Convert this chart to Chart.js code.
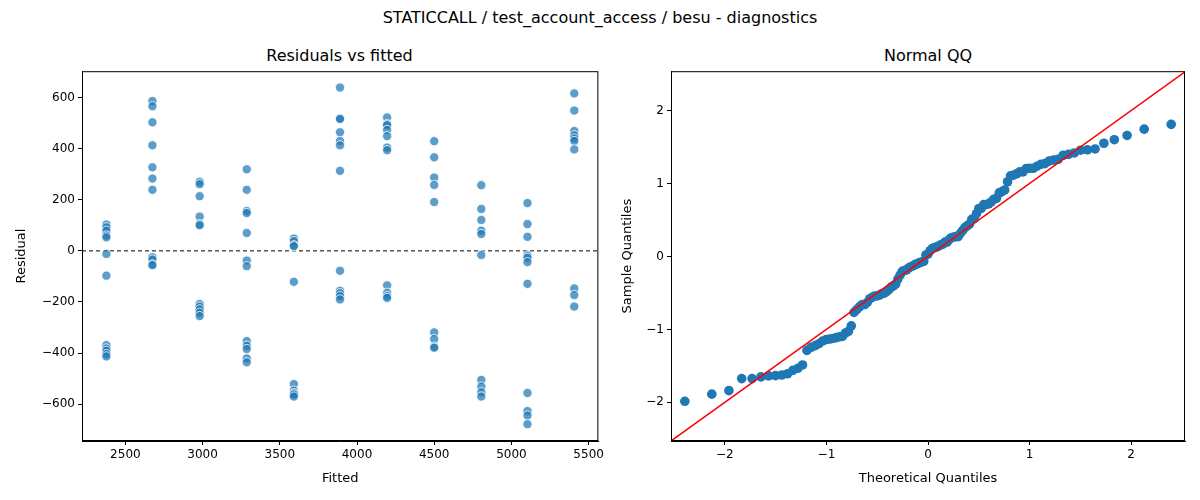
<!DOCTYPE html>
<html><head><meta charset="utf-8">
<script src="https://cdn.jsdelivr.net/npm/chart.js@4"></script>
<style>
body{margin:0;width:1200px;height:500px;background:#fff;font-family:"DejaVu Sans",sans-serif;position:relative;overflow:hidden}
.t{position:absolute;text-align:center;color:#000}
canvas{position:absolute}
</style></head><body>
<div class="t" style="left:0;width:1200px;top:8px;font-size:16px">STATICCALL / test_account_access / besu - diagnostics</div>
<div class="t" style="left:82px;width:515px;top:46px;font-size:16px">Residuals vs fitted</div>
<div class="t" style="left:671px;width:514px;top:46px;font-size:16px">Normal QQ</div>
<div style="position:absolute;left:0;top:61px;width:607px;height:439px"><canvas id="c1"></canvas></div>
<div style="position:absolute;left:600px;top:61px;width:600px;height:439px"><canvas id="c2"></canvas></div>
<script>
const fitted = [2377,2675,2981,3286,3591,3890,4195,4500,4805,5104,5407];
const residuals = [
 [103,92,79,60,53,-12,-97,-369,-382,-391,-404,-413],
 [586,566,503,413,327,283,239,-25,-34,-53,-56],
 [270,261,214,134,105,100,-208,-218,-229,-242,-255],
 [319,239,156,148,70,-38,-60,-353,-371,-384,-421,-436],
 [48,38,22,18,-121,-521,-547,-557,-562,-570],
 [639,518,516,464,430,413,313,-78,-156,-166,-177,-190],
 [522,496,492,473,449,404,394,-135,-164,-177,-184],
 [429,366,287,258,191,-319,-345,-375,-379],
 [257,164,121,79,66,-16,-505,-531,-553,-570],
 [187,105,55,-18,-27,-44,-129,-556,-627,-644,-678],
 [616,549,469,452,440,430,397,-147,-173,-218]
];
const resTicks = [-600,-400,-200,0,200,400,600];
const fitTicks = [2500,3000,3500,4000,4500,5000,5500];
const qqTicks = [-2,-1,0,1,2];

function invNorm(p){
 const a=[-39.69683028665376,220.9460984245205,-275.9285104469687,138.3577518672690,-30.66479806614716,2.506628277459239];
 const b=[-54.47609879822406,161.5858368580409,-155.6989798598866,66.80131188771972,-13.28068155288572];
 const c=[-0.007784894002430293,-0.3223964580411365,-2.400758277161838,-2.549732539343734,4.374664141464968,2.938163982698783];
 const d=[0.007784695709041462,0.3224671290700398,2.445134137142996,3.754408661907416];
 const pl=0.02425;let q,r;
 if(p<pl){q=Math.sqrt(-2*Math.log(p));return (((((c[0]*q+c[1])*q+c[2])*q+c[3])*q+c[4])*q+c[5])/((((d[0]*q+d[1])*q+d[2])*q+d[3])*q+1);}
 if(p>1-pl){q=Math.sqrt(-2*Math.log(1-p));return -(((((c[0]*q+c[1])*q+c[2])*q+c[3])*q+c[4])*q+c[5])/((((d[0]*q+d[1])*q+d[2])*q+d[3])*q+1);}
 q=p-0.5;r=q*q;return (((((a[0]*r+a[1])*r+a[2])*r+a[3])*r+a[4])*r+a[5])*q/(((((b[0]*r+b[1])*r+b[2])*r+b[3])*r+b[4])*r+1);
}

const pts1=[];
fitted.forEach((f,i)=>residuals[i].forEach(r=>pts1.push({x:f,y:r})));
const all=pts1.map(p=>p.y).sort((a,b)=>a-b);
const n=all.length, mean=all.reduce((s,v)=>s+v,0)/n;
const sd=Math.sqrt(all.reduce((s,v)=>s+(v-mean)**2,0)/(n-1));
const qq=all.map((v,i)=>({x:invNorm((i+1)/(n+1)),y:(v-mean)/sd}));

const frame={id:'frame',afterDraw(ch){const {ctx,chartArea:a}=ch;ctx.save();ctx.strokeStyle='#000';ctx.lineWidth=1;ctx.strokeRect(a.left+0.5,a.top+0.5,a.right-a.left-1,a.bottom-a.top-1);ctx.restore();}};
const font={family:'DejaVu Sans',size:12};
function axis(min,max,ticks,title,w,isX){
 return {type:'linear',min,max,
  afterBuildTicks(s){s.ticks=ticks.map(v=>({value:v}));},
  afterFit(s){if(isX)s.height=w;else s.width=w;},
  grid:{display:true,drawOnChartArea:false,drawTicks:true,tickLength:4,color:'#000'},
  border:{display:true,color:'#000'},
  ticks:{color:'#000',font,padding:3,callback:v=>String(v).replace('-','\u2212')},
  title:{display:true,text:title,color:'#000',font:{family:'DejaVu Sans',size:13},padding:{top:2,bottom:2}}};
}
Chart.defaults.font.family='DejaVu Sans';
new Chart(document.getElementById('c1'),{type:'scatter',
 data:{datasets:[
  {data:pts1,backgroundColor:'rgba(31,119,180,0.72)',borderColor:'#fff',borderWidth:0.8,pointRadius:4.6,order:1},
  {type:'line',data:[{x:2219,y:0},{x:5563,y:0}],borderColor:'#000',borderWidth:1,borderDash:[4,3],pointRadius:0,order:2}
 ]},
 options:{responsive:true,maintainAspectRatio:false,animation:false,events:[],
  layout:{padding:{top:10,right:3,left:12,bottom:12}},
  plugins:{legend:{display:false},tooltip:{enabled:false}},
  scales:{x:axis(2219,5563,fitTicks,'Fitted',47,true),y:axis(-744,703,resTicks,'Residual',70,false)}},
 plugins:[frame]});
new Chart(document.getElementById('c2'),{type:'scatter',
 data:{datasets:[
  {data:qq,backgroundColor:'#1f77b4',borderWidth:0,pointRadius:4.8,order:2},
  {type:'line',data:[{x:-2.53,y:-2.53},{x:2.53,y:2.53}],borderColor:'#ff0000',borderWidth:1.5,pointRadius:0,order:1}
 ]},
 options:{responsive:true,maintainAspectRatio:false,animation:false,events:[],
  layout:{padding:{top:10,right:15,left:18,bottom:12}},
  plugins:{legend:{display:false},tooltip:{enabled:false}},
  scales:{x:axis(-2.53,2.53,qqTicks,'Theoretical Quantiles',47,true),y:axis(-2.53,2.54,qqTicks,'Sample Quantiles',53,false)}},
 plugins:[frame]});
</script></body></html>
